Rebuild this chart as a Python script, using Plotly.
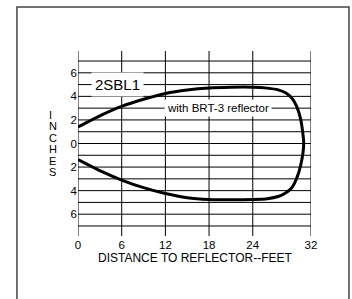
import plotly.graph_objects as go

# Data
upper_x = [0, 3, 6, 9, 12, 15, 18, 21, 24, 26, 27.5, 28.5, 29.3, 30, 30.6, 31.0]
upper_y = [1.4, 2.35, 3.15, 3.75, 4.25, 4.55, 4.72, 4.78, 4.78, 4.7, 4.55, 4.3, 3.9, 3.2, 2.0, 0]
lower_x = [0, 3, 6, 9, 12, 15, 18, 21, 24, 26, 27.5, 28.5, 29.3, 30, 30.6]
lower_y = [-1.36, -2.3, -3.1, -3.75, -4.25, -4.6, -4.75, -4.78, -4.75, -4.68, -4.5, -4.2, -3.8, -3.0, -1.8]

x_ticks = [0, 6, 12, 18, 24, 32]
y_ticks = [-6, -4, -2, 0, 2, 4, 6]
y_tick_labels = ["6", "4", "2", "0", "2", "4", "6"]
h_grid = [-7, -6, -5, -4, -3, -2, -1, 0, 1, 2, 3, 4, 5, 6, 7]
y_title_letters = ["I", "N", "C", "H", "E", "S"]

curve_x = upper_x + lower_x[::-1]
curve_y = upper_y + lower_y[::-1]

fig = go.Figure()
fig.add_trace(go.Scatter(x=curve_x, y=curve_y, mode="lines",
                         line=dict(color="black", width=3, shape="spline", smoothing=0.6),
                         hoverinfo="skip", showlegend=False))

shapes = []
for v in x_ticks:
    shapes.append(dict(type="line", xref="x", yref="paper", x0=v, x1=v, y0=0, y1=1,
                       line=dict(color="black", width=1), layer="below"))
for h in h_grid:
    shapes.append(dict(type="line", xref="paper", yref="y", x0=0, x1=1, y0=h, y1=h,
                       line=dict(color="black", width=1), layer="below"))
# outer frame
shapes.append(dict(type="rect", xref="paper", yref="paper", x0=-0.262, x1=1.163, y0=-0.4, y1=1.238,
                   line=dict(color="#444444", width=1.5)))

annotations = [
    dict(x=5.36, y=5, xref="x", yref="y", text="2SBL1", showarrow=False,
         font=dict(size=15, color="black"), bgcolor="white", borderpad=3),
    dict(x=19.2, y=3, xref="x", yref="y", text="with BRT-3 reflector", showarrow=False,
         font=dict(size=11.5, color="black"), bgcolor="white", borderpad=2),
    dict(x=0.5, y=-0.118, xref="paper", yref="paper", text="DISTANCE TO REFLECTOR--FEET",
         showarrow=False, font=dict(size=12, color="black"), yanchor="middle"),
]
n = len(y_title_letters)
for i, letter in enumerate(y_title_letters):
    annotations.append(dict(x=-0.133, y=((n - 1) / 2 - i) * 0.98, xref="paper", yref="y",
                            text=letter, showarrow=False, font=dict(size=11, color="black")))

fig.update_layout(
    width=352, height=299,
    margin=dict(l=78, r=41, t=51, b=63, autoexpand=False),
    paper_bgcolor="white", plot_bgcolor="white",
    font=dict(family="Liberation Sans, Arial, sans-serif", color="black"),
    xaxis=dict(range=[0, 32], tickvals=x_ticks, showgrid=False, zeroline=False,
               showline=False, ticks="", tickfont=dict(size=11.5), fixedrange=True),
    yaxis=dict(range=[-7.85, 7.85], tickvals=y_ticks, ticktext=y_tick_labels, showgrid=False,
               zeroline=False, showline=False, ticks="", tickfont=dict(size=11.5), fixedrange=True),
    shapes=shapes, annotations=annotations,
)

fig.write_html("out.html", config={"displayModeBar": False},
               post_script="document.body.style.margin='0';document.body.style.overflow='hidden';")
